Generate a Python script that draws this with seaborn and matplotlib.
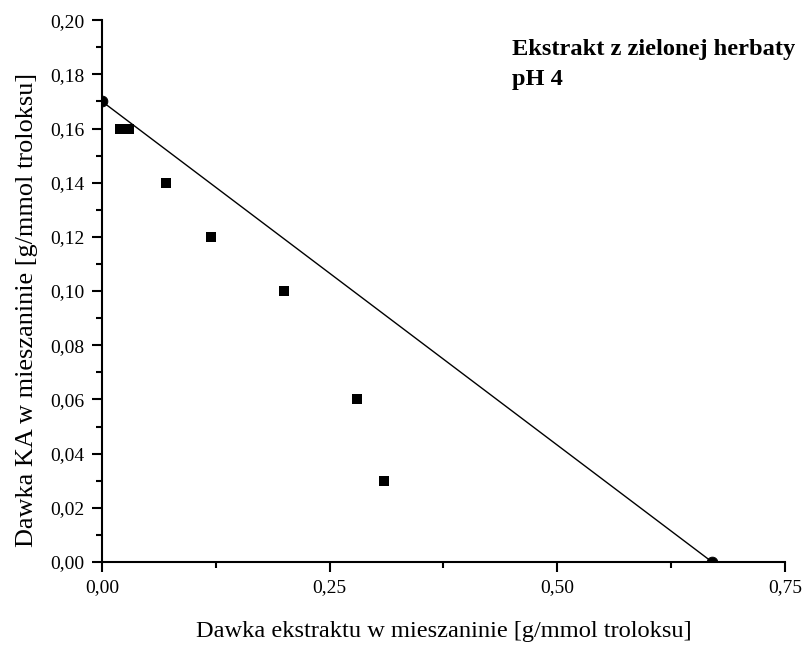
import matplotlib
matplotlib.use("Agg")
import matplotlib.pyplot as plt
import seaborn as sns
import pandas as pd
from matplotlib.ticker import MultipleLocator, FuncFormatter

sns.set_theme(style="ticks")
plt.rcParams['font.family'] = ['Liberation Serif', 'DejaVu Serif']

# data
sq_x = [0.02, 0.03, 0.07, 0.12, 0.20, 0.28, 0.31]
sq_y = [0.16, 0.16, 0.14, 0.12, 0.10, 0.06, 0.03]
end_x = [0.0, 0.67]
end_y = [0.17, 0.0]
annot_lines = ["Ekstrakt z zielonej herbaty", "pH 4"]
xlabel = "Dawka ekstraktu w mieszaninie [g/mmol troloksu]"
ylabel = "Dawka KA w mieszaninie [g/mmol troloksu]"

fig = plt.figure(figsize=(8.07, 6.5), dpi=100)
ax = fig.add_axes([0.1264, 0.1354, 0.8463, 0.8336])

df_line = pd.DataFrame({"x": end_x, "y": end_y})
sns.lineplot(data=df_line, x="x", y="y", ax=ax, color="black", lw=1.0, zorder=2)
sns.scatterplot(data=df_line, x="x", y="y", ax=ax, color="black", marker="o",
                s=60, edgecolor="black", zorder=3)
df_sq = pd.DataFrame({"x": sq_x, "y": sq_y})
sns.scatterplot(data=df_sq, x="x", y="y", ax=ax, color="black", marker="s",
                s=62, edgecolor="black", linewidth=0, zorder=3)

ax.set_xlim(0, 0.75)
ax.set_ylim(0, 0.20)
ax.xaxis.set_major_locator(MultipleLocator(0.25))
ax.xaxis.set_minor_locator(MultipleLocator(0.125))
ax.yaxis.set_major_locator(MultipleLocator(0.02))
ax.yaxis.set_minor_locator(MultipleLocator(0.01))
fmt = FuncFormatter(lambda v, p: f"{v:.2f}".replace(".", ","))
ax.xaxis.set_major_formatter(fmt)
ax.yaxis.set_major_formatter(fmt)

for s in ["top", "right"]:
    ax.spines[s].set_visible(False)
for s in ["left", "bottom"]:
    ax.spines[s].set_linewidth(1.5)
    ax.spines[s].set_color("black")
ax.tick_params(which="major", direction="out", length=7.5, width=1.5, labelsize=14,
               colors="black", pad=5)
ax.tick_params(which="minor", direction="out", length=4, width=1.5, colors="black")

ax.set_xlabel(xlabel, fontsize=17.6, labelpad=18, color="black")
ax.set_ylabel(ylabel, fontsize=18.9, color="black")
ax.yaxis.set_label_coords(-0.094, 0.465)

ax.text(0.600, 0.935, annot_lines[0], transform=ax.transAxes, fontsize=17.6,
        fontweight="bold", va="baseline", ha="left", color="black")
ax.text(0.600, 0.880, annot_lines[1], transform=ax.transAxes, fontsize=17.6,
        fontweight="bold", va="baseline", ha="left", color="black")

fig.savefig("out.png", dpi=100)
